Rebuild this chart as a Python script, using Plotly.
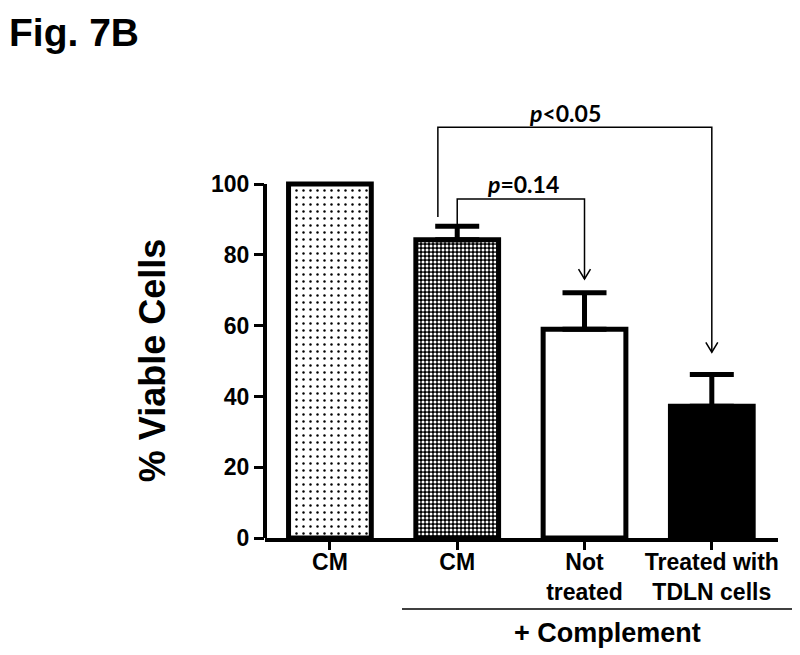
import plotly.graph_objects as go

# ---- data ----
categories = ["CM", "CM", "Not<br>treated", "Treated with<br>TDLN cells"]
viable_pct = [100, 84.3, 59.0, 37.2]
sem_pct = [0, 3.8, 10.3, 9.0]
y_ticks = [0, 20, 40, 60, 80, 100]
p_labels = ["<b><i>p</i>=0.14</b>", "<b><i>p</i>&lt;0.05</b>"]

x_pos = list(range(len(categories)))

BF = "Liberation Sans, Arial, sans-serif"
PF = "Lato, Liberation Sans, sans-serif"

# fill style per bar: (pattern shape, fg, bg, size, solidity)
fills = [
    (".", "black", "white", 7, 0.1),
    (".", "white", "black", 4, 0.45),
    ("", "black", "white", 8, 0.3),
    ("", "black", "black", 8, 0.3),
]

fig = go.Figure()
for i, (shp, fg, bg, sz, sol) in enumerate(fills):
    fig.add_trace(go.Bar(
        x=[x_pos[i]], y=[viable_pct[i]], width=0.65,
        marker=dict(
            color=bg,
            line=dict(color="black", width=5),
            pattern=dict(shape=shp, fgcolor=fg, bgcolor=bg, size=sz, solidity=sol,
                         fillmode="replace"),
        ),
        error_y=dict(type="data", array=[sem_pct[i]], arrayminus=[0], symmetric=False,
                     thickness=5, width=22, color="black", visible=sem_pct[i] > 0),
        cliponaxis=False,
        showlegend=False,
    ))

shapes = []
annotations = []

# y-axis line (0..100 only)
shapes.append(dict(type="line", xref="paper", yref="y", x0=0, x1=0, y0=0, y1=100,
                   line=dict(color="black", width=4)))

# comparison brackets: (x_left, y_left_start, y_top, x_right, y_tip, label, label_x)
brackets = [
    (1.0, 88.1, 95.8, 2.0, 73.2, p_labels[0], 1.52),
    (0.848, 90.7, 116.1, 3.0, 52.5, p_labels[1], 1.85),
]
hw, hh = 0.047, 2.8  # arrow head half-width (x units) / height (y units)
for xl, yl, yt, xr, ytip, lab, lx in brackets:
    shapes.append(dict(type="path", xref="x", yref="y",
                       path=f"M {xl} {yl} L {xl} {yt} L {xr} {yt} L {xr} {ytip}",
                       line=dict(color="black", width=1.5)))
    shapes.append(dict(type="path", xref="x", yref="y",
                       path=f"M {xr - hw} {ytip + hh} L {xr} {ytip} L {xr + hw} {ytip + hh}",
                       line=dict(color="black", width=1.5)))
    annotations.append(dict(x=lx, y=yt - 0.4, xref="x", yref="y", text=lab, showarrow=False,
                            yanchor="bottom", font=dict(family=PF, size=23, color="black")))

# + Complement line and label
shapes.append(dict(type="line", xref="paper", yref="paper", x0=0.267, x1=1.029, y0=-0.1606, y1=-0.1606,
                   line=dict(color="black", width=1.5)))
annotations.append(dict(x=0.667, y=-0.215, xref="paper", yref="paper", text="<b>+ Complement</b>",
                        xanchor="center", yanchor="middle",
                        showarrow=False, font=dict(family=BF, size=27, color="black")))

# y title
annotations.append(dict(x=-0.22, y=50, xref="paper", yref="y", text="<b>% Viable Cells</b>",
                        xanchor="center", yanchor="middle",
                        textangle=-90, showarrow=False, font=dict(family=BF, size=36, color="black")))

# figure label
annotations.append(dict(x=-0.503, y=1.197, xref="paper", yref="paper", text="<b>Fig. 7B</b>",
                        xanchor="left", yanchor="top", showarrow=False,
                        font=dict(family=BF, size=39, color="black")))

fig.update_layout(
    width=792, height=647,
    margin=dict(l=257, r=22, t=88, b=117),
    paper_bgcolor="white", plot_bgcolor="white",
    barmode="overlay",
    shapes=shapes, annotations=annotations,
    xaxis=dict(range=[-0.51, 3.52], tickvals=x_pos, ticktext=[f"<b>{c}</b>" for c in categories],
               showline=True, linecolor="black", linewidth=4, ticks="outside", ticklen=8,
               tickwidth=3, tickcolor="black", showgrid=False, zeroline=False,
               ticklabelstandoff=-8,
               tickfont=dict(family=BF, size=23, color="black")),
    yaxis=dict(range=[0, 124.9], tickvals=y_ticks, ticktext=[f"<b>{t}</b>" for t in y_ticks],
               showline=False, ticks="outside", ticklen=10, tickwidth=3, tickcolor="black",
               showgrid=False, zeroline=False,
               tickfont=dict(family=BF, size=23, color="black")),
)

fig.write_html("out.html")
